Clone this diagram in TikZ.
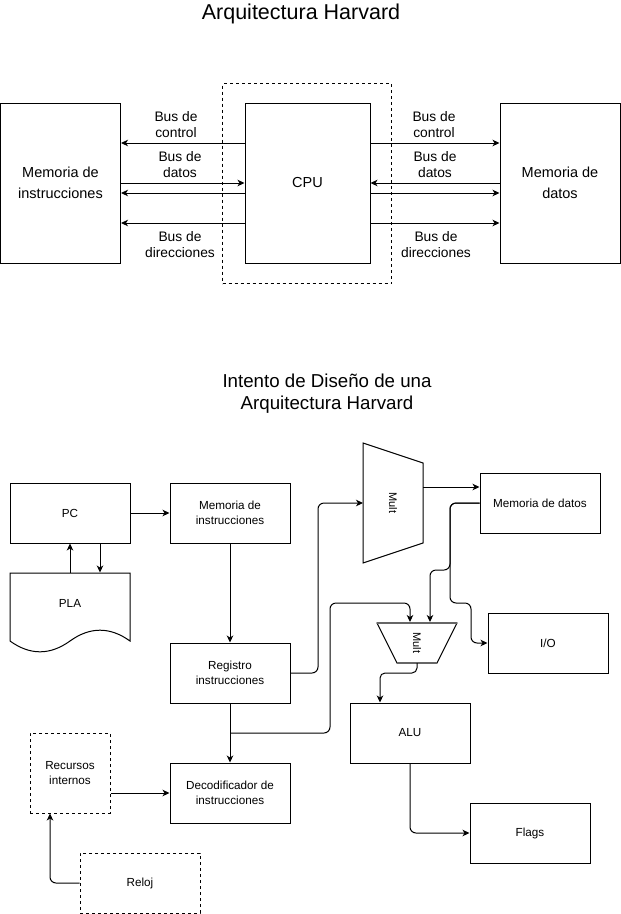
\documentclass[tikz,border=0pt]{standalone}
\usepackage{fontspec}
\setmainfont{Liberation Sans}
\usetikzlibrary{arrows.meta,calc}
\begin{document}
\begin{tikzpicture}[x=1pt,y=-1pt,line width=1pt,
  arr/.style={-{Stealth[length=7pt,width=6.5pt,inset=2pt]}},
  blk/.style={draw,inner sep=0pt,align=center,minimum width=120pt,minimum height=60pt,font=\fontsize{11.7}{15}\selectfont},
  bigblk/.style={draw,inner sep=0pt,align=center,minimum width=120pt,minimum height=160pt,font=\fontsize{14.5}{21}\selectfont},
  dsh/.style={dash pattern=on 3pt off 3pt},
  buslbl/.style={align=center,inner sep=0pt,font=\fontsize{13.8}{15.5}\selectfont},
  multlbl/.style={rotate=-90,inner sep=0.5pt,fill=white,font=\fontsize{11}{13}\selectfont},
  rc/.style={rounded corners=6pt}]
\useasboundingbox (0,0) rectangle (621,914);

% ---------- top diagram ----------
\node[inner sep=0pt,font=\fontsize{21.5}{25}\selectfont] (t1) at (301,14) {Arquitectura Harvard};
\node[draw,dsh,minimum width=169pt,minimum height=200pt,inner sep=0pt] (frame) at (307,183.5) {};
\node[bigblk] (mi) at (60.5,183) {Memoria de\\instrucciones};
\node[bigblk,minimum width=125pt] (cpu) at (307.5,183) {CPU};
\node[bigblk] (md) at (560,183) {Memoria de\\datos};

\coordinate (yc) at (0,143);
\coordinate (yd1) at (0,183);
\coordinate (yd2) at (0,193);
\coordinate (ya) at (0,223);

\draw[arr] (cpu.west |- yc) -- (mi.east |- yc);
\draw[arr] (mi.east |- yd1) -- (cpu.west |- yd1);
\draw[arr] (cpu.west |- yd2) -- (mi.east |- yd2);
\draw[arr] (cpu.west |- ya) -- (mi.east |- ya);
\draw[arr] (cpu.east |- yc) -- (md.west |- yc);
\draw[arr] (md.west |- yd1) -- (cpu.east |- yd1);
\draw[arr] (cpu.east |- yd2) -- (md.west |- yd2);
\draw[arr] (cpu.east |- ya) -- (md.west |- ya);

\node[buslbl] (l1) at (176,124.5) {Bus de\\control};
\node[buslbl] (l2) at (180,164.5) {Bus de\\datos};
\node[buslbl] (l3) at (180,244.5) {Bus de\\direcciones};
\node[buslbl] (r1) at (434,124.5) {Bus de\\control};
\node[buslbl] (r2) at (435,164.5) {Bus de\\datos};
\node[buslbl] (r3) at (436,244.5) {Bus de\\direcciones};

% ---------- bottom diagram ----------
\node[align=center,inner sep=0pt,font=\fontsize{18.7}{22}\selectfont] (t2) at (327,394) {Intento de Diseño de una\\Arquitectura Harvard};

\node[blk] (pc) at (70,513) {PC};
\node[blk] (memins) at (230,513) {Memoria de\\instrucciones};
\node[blk] (reg) at (230,673) {Registro\\instrucciones};
\node[blk] (dec) at (230,793) {Decodificador de\\instrucciones};
\node[blk,dsh,minimum width=80pt,minimum height=80pt] (rec) at (70,773) {Recursos\\internos};
\node[blk,dsh] (reloj) at (140,883) {Reloj};
\node[blk] (md2) at (540,503) {Memoria de datos};
\node[blk] (io) at (548,643) {I/O};
\node[blk] (alu) at (410,733) {ALU};
\node[blk] (flags) at (530,833) {Flags};

% PLA (document shape)
\draw (10,573) -- (130,573) -- (130,641) .. controls (110,626.6) and (90,626.6) .. (70,641)
      .. controls (50,655.4) and (30,655.4) .. (10,641) -- cycle;
\node[inner sep=0pt,minimum width=120pt,minimum height=60pt,font=\fontsize{11.7}{15}\selectfont] (pla) at (70,603) {PLA};

% multiplexers
\draw (363,443) -- (423,463) -- (423,543) -- (363,563) -- cycle;
\node[multlbl] (mux1) at (393,503) {Mult};
\draw (377,623) -- (457,623) -- (437,663) -- (397,663) -- cycle;
\draw[line width=1.8pt,color=black!60] (377,623) -- (457,623) (397,663) -- (437,663);
\node[multlbl] (mux2) at (417,643) {Mult};

\coordinate (m1in) at (363,503);
\coordinate (m1out) at (423,487);
\coordinate (m2in1) at (410,622);
\coordinate (m2in2) at (430,622);
\coordinate (m2out) at (417,663);
\coordinate (br) at ($(reg.south)!0.5!(dec.north)$);

% connectors
\draw[arr] (pc.east) -- (memins.west);
\draw[arr] (pla.north) -- (pc.south);
\draw[arr] ([xshift=30pt]pc.south) -- ([xshift=30pt]pla.north);
\draw[arr] (memins.south) -- (reg.north);
\draw[arr] (reg.south) -- (dec.north);
\draw[arr,rc] (br) -- (330,733) -- (330,603) -- (410,603) -- (m2in1);
\draw[arr,rc] (reg.east) -- (318,673) -- (318,503) -- (m1in);
\draw[arr] (m1out) -- (m1out -| md2.west);
\draw[arr,rc] (md2.west) -- (450,503) -- (450,570) -- (430,570) -- (m2in2);
\draw[arr,rc] (md2.west) -- (450,503) -- (450,603) -- (471,603) -- (471,643) -- (io.west);
\draw[arr,rounded corners=5pt] (m2out) -- (417,673) -- (380,673) -- ([xshift=-30pt]alu.north);
\draw[arr,rc] (alu.south) |- (flags.west);
\draw[arr] (dec.west -| rec.east) -- (dec.west);
\draw[arr,rc] (reloj.west) -| ([xshift=-20pt]rec.south);
\end{tikzpicture}
\end{document}
